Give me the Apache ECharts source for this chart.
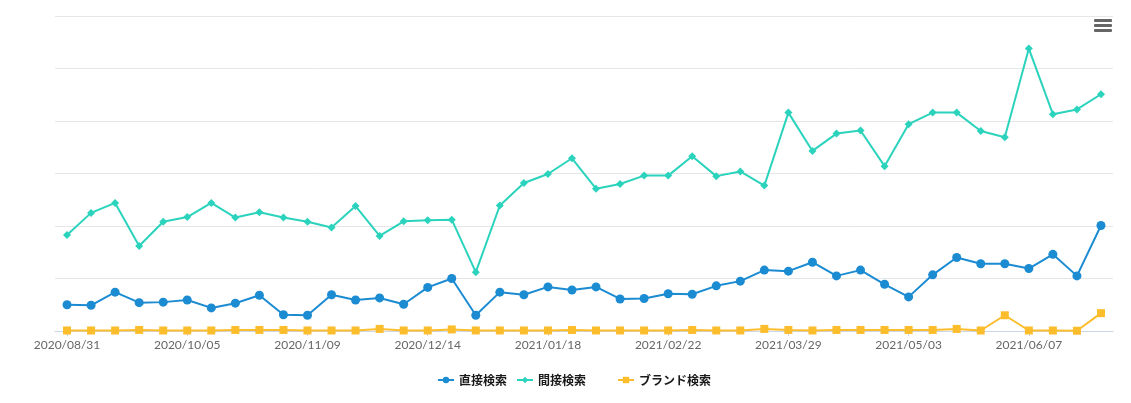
<!DOCTYPE html>
<html>
<head>
<meta charset="utf-8">
<script src="https://cdn.jsdelivr.net/npm/echarts@6/dist/echarts.min.js"></script>
<style>
html,body{margin:0;padding:0;background:#fff;}
#chart{width:1131px;height:403px;}
</style>
</head>
<body>
<div id="chart"></div>
<script>
const categories = [
  '2020/08/31','2020/09/07','2020/09/14','2020/09/21','2020/09/28',
  '2020/10/05','2020/10/12','2020/10/19','2020/10/26','2020/11/02',
  '2020/11/09','2020/11/16','2020/11/23','2020/11/30','2020/12/07',
  '2020/12/14','2020/12/21','2020/12/28','2021/01/04','2021/01/11',
  '2021/01/18','2021/01/25','2021/02/01','2021/02/08','2021/02/15',
  '2021/02/22','2021/03/01','2021/03/08','2021/03/15','2021/03/22',
  '2021/03/29','2021/04/05','2021/04/12','2021/04/19','2021/04/26',
  '2021/05/03','2021/05/10','2021/05/17','2021/05/24','2021/05/31',
  '2021/06/07','2021/06/14','2021/06/21','2021/06/28'
];
const seriesNames = ['直接検索', '間接検索', 'ブランド検索'];
const directSearch = [
  50, 49, 74, 54, 55, 59, 44, 53, 68, 31,
  30, 69, 59, 63, 51, 83, 100, 30, 74, 69,
  84, 78, 84, 61, 62, 71, 70, 86, 95, 116,
  114, 131, 105, 116, 89, 65, 107, 140, 128, 128,
  119, 146, 105, 201
];
const indirectSearch = [
  183, 225, 244, 162, 208, 217, 244, 216, 226, 216,
  208, 197, 238, 181, 209, 211, 212, 112, 239, 282,
  299, 329, 271, 280, 296, 296, 333, 295, 304, 277,
  416, 343, 376, 382, 314, 394, 416, 416, 381, 369,
  538, 413, 422, 451
];
const brandSearch = [
  1, 1, 1, 2, 1, 1, 1, 2, 2, 2,
  1, 1, 1, 4, 1, 1, 3, 1, 1, 1,
  1, 2, 1, 1, 1, 1, 2, 1, 1, 4,
  2, 1, 2, 2, 2, 2, 2, 4, 1, 30,
  1, 1, 0.5, 34
];

const colors = ['#1b8bd2', '#2bd3bd', '#fcbd2c'];
const symbols = ['circle', 'diamond', 'rect'];
const symbolSizes = [9, 8, 8];
const values = [directSearch, indirectSearch, brandSearch];
const legendLefts = [437, 516, 617];

const chart = echarts.init(document.getElementById('chart'), null, {renderer: 'canvas'});
const option = {
  animation: false,
  color: colors,
  grid: {left: 55, right: 18, top: 16, bottom: 72, containLabel: false},
  xAxis: {
    type: 'category',
    data: categories,
    boundaryGap: true,
    axisLine: {lineStyle: {color: '#ccd6eb', width: 1}},
    axisTick: {show: true, alignWithLabel: true, interval: 4, length: 5, lineStyle: {color: '#ccd6eb'}},
    axisLabel: {interval: 4, color: '#666666', fontSize: 12, fontFamily: 'Lato', margin: 8}
  },
  yAxis: {
    type: 'value',
    min: 0, max: 600, interval: 100,
    axisLabel: {show: false},
    axisLine: {show: false},
    axisTick: {show: false},
    splitLine: {lineStyle: {color: '#e6e6e6', width: 1}}
  },
  legend: seriesNames.map((n, i) => ({
    data: [n],
    left: legendLefts[i],
    top: 374,
    itemWidth: 16,
    itemHeight: 8,
    itemGap: 0,
    padding: 0,
    textStyle: {color: '#1a1a1a', fontSize: 12, fontWeight: 'bold', fontFamily: 'Noto Sans CJK JP'}
  })),
  graphic: [
    {type: 'rect', shape: {x: 1094, y: 19, width: 18, height: 3, r: 1}, style: {fill: '#666'}},
    {type: 'rect', shape: {x: 1094, y: 24, width: 18, height: 3, r: 1}, style: {fill: '#666'}},
    {type: 'rect', shape: {x: 1094, y: 29, width: 18, height: 3, r: 1}, style: {fill: '#666'}}
  ],
  series: seriesNames.map((n, i) => ({
    name: n,
    type: 'line',
    data: values[i],
    symbol: symbols[i],
    symbolSize: symbolSizes[i],
    showSymbol: true,
    lineStyle: {width: 2, color: colors[i]},
    itemStyle: {color: colors[i]},
    z: 3 - i
  }))
};
chart.setOption(option);
</script>
</body>
</html>
